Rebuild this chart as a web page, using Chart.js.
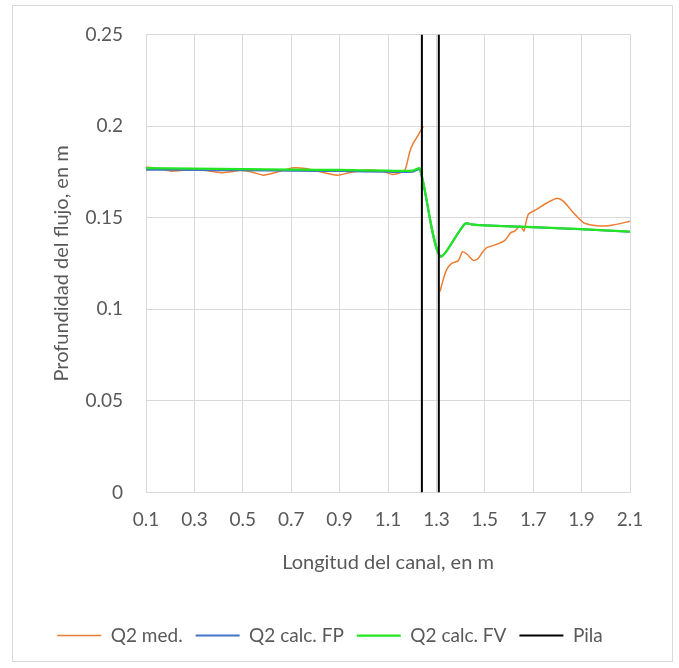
<!DOCTYPE html>
<html>
<head>
<meta charset="utf-8">
<script src="https://cdn.jsdelivr.net/npm/chart.js@4"></script>
<style>
  body { margin: 0; background: #fff; }
</style>
</head>
<body>
<canvas id="perfil" width="679" height="668"></canvas>
<script>
// tick values on the channel axis
const xTicks = [0.1, 0.3, 0.5, 0.7, 0.9, 1.1, 1.3, 1.5, 1.7, 1.9, 2.1];

// measured profile (null = break at the pier)
const medX = [0.10, 0.15, 0.20, 0.25, 0.31, 0.36, 0.41, 0.45, 0.49, 0.54, 0.585, 0.64, 0.71, 0.76, 0.82, 0.89, 0.94, 1.00, 1.05, 1.09, 1.12, 1.15, 1.17, 1.19, 1.205, 1.225, 1.246,
  1.28,
  1.315, 1.33, 1.342, 1.363, 1.39, 1.408, 1.427, 1.452, 1.473, 1.49, 1.508, 1.549, 1.583, 1.607, 1.624, 1.645, 1.655, 1.662, 1.68, 1.714, 1.756, 1.797, 1.824, 1.866, 1.907, 1.948, 1.99, 2.03, 2.10];
const medY = [0.1776, 0.1768, 0.1754, 0.1758, 0.1763, 0.1755, 0.1745, 0.1750, 0.1758, 0.1748, 0.1732, 0.1748, 0.1772, 0.1768, 0.1750, 0.1732, 0.1745, 0.1758, 0.1758, 0.1748, 0.1736, 0.1745, 0.1758, 0.1860, 0.1908, 0.1950, 0.1999,
  null,
  0.1097, 0.1170, 0.1215, 0.1250, 0.1264, 0.1314, 0.1300, 0.1267, 0.1278, 0.1310, 0.1336, 0.1354, 0.1376, 0.1418, 0.1427, 0.1454, 0.1440, 0.1427, 0.1518, 0.1545, 0.1580, 0.1605, 0.1590, 0.1527, 0.1473, 0.1458, 0.1455, 0.1460, 0.1480];

// computed profile, FP
const fpX = [0.10, 0.30, 0.50, 0.70, 0.90, 1.10, 1.20, 1.232, 1.315, 1.418, 1.45, 1.494, 1.70, 1.90, 2.10];
const fpY = [0.1762, 0.1760, 0.1758, 0.1756, 0.1754, 0.1750, 0.1750, 0.1762, 0.1290, 0.1467, 0.1462, 0.1458, 0.1448, 0.1437, 0.1423];

// computed profile, FV
const fvX = [0.10, 0.30, 0.50, 0.70, 0.90, 1.10, 1.20, 1.232, 1.315, 1.418, 1.45, 1.494, 1.70, 1.90, 2.10];
const fvY = [0.1770, 0.1767, 0.1765, 0.1762, 0.1760, 0.1756, 0.1756, 0.1768, 0.1290, 0.1467, 0.1462, 0.1458, 0.1448, 0.1437, 0.1423];

// pier faces
const pilaX = [1.24, 1.24, 1.275, 1.31, 1.31];
const pilaY = [0, 0.25, null, 0.25, 0];

const pts = (xs, ys) => xs.map((x, i) => ({ x: x, y: ys[i] }));

const grey = "#595959";
const font = "Lato, 'Open Sans', sans-serif";

const frame = {
  id: "frame",
  beforeDraw(chart) {
    const ctx = chart.ctx;
    ctx.save();
    ctx.fillStyle = "#fff";
    ctx.fillRect(0, 0, chart.width, chart.height);
    ctx.strokeStyle = "#d9d9d9";
    ctx.lineWidth = 1;
    ctx.strokeRect(12.5, 5.5, 660, 656);
    ctx.restore();
  }
};

function line(label, data, color, width, order) {
  return {
    label: label,
    data: data,
    borderColor: color,
    backgroundColor: color,
    borderWidth: width,
    pointRadius: 0,
    showLine: true,
    spanGaps: false,
    tension: 0.25,
    order: order
  };
}

new Chart(document.getElementById("perfil"), {
  type: "scatter",
  data: {
    datasets: [
      line("Q2 med.", pts(medX, medY), "#ED7D31", 1.5, 4),
      line("Q2 calc. FP", pts(fpX, fpY), "#4472C4", 2, 3),
      line("Q2 calc. FV", pts(fvX, fvY), "#22e622", 2.25, 2),
      Object.assign(line("Pila", pts(pilaX, pilaY), "#000000", 2, 1), { tension: 0 })
    ]
  },
  plugins: [frame],
  options: {
    responsive: false,
    animation: false,
    layout: { padding: { left: 30, right: 49, top: 33, bottom: 13 } },
    plugins: {
      tooltip: { enabled: false },
      legend: {
        position: "bottom",
        labels: {
          color: grey,
          font: { family: font, size: 19 },
          boxWidth: 44,
          boxHeight: 0,
          padding: 13,
          sort: (a, b) => a.datasetIndex - b.datasetIndex
        }
      }
    },
    scales: {
      x: {
        type: "linear",
        min: 0.1,
        max: 2.1,
        afterBuildTicks: s => { s.ticks = xTicks.map(v => ({ value: v })); },
        afterFit: s => { s.height = 120.5; },
        grid: { color: "#d9d9d9", drawTicks: false },
        border: { color: "#d9d9d9" },
        ticks: {
          color: grey,
          font: { family: font, size: 19 },
          padding: 16,
          maxRotation: 0,
          callback: v => String(+v.toFixed(2))
        },
        title: {
          display: true,
          text: "Longitud del canal, en m",
          color: grey,
          font: { family: font, size: 20 },
          padding: { top: 0, bottom: 38 }
        }
      },
      y: {
        min: 0,
        max: 0.25,
        afterFit: s => { s.width = 116; },
        grid: { color: "#d9d9d9", drawTicks: false },
        border: { color: "#d9d9d9" },
        ticks: {
          stepSize: 0.05,
          color: grey,
          font: { family: font, size: 19 },
          padding: 23,
          callback: v => String(+v.toFixed(2))
        },
        title: {
          display: true,
          text: "Profundidad del flujo, en m",
          color: grey,
          font: { family: font, size: 20 },
          padding: { top: 20, bottom: 0 }
        }
      }
    }
  }
});
</script>
</body>
</html>
